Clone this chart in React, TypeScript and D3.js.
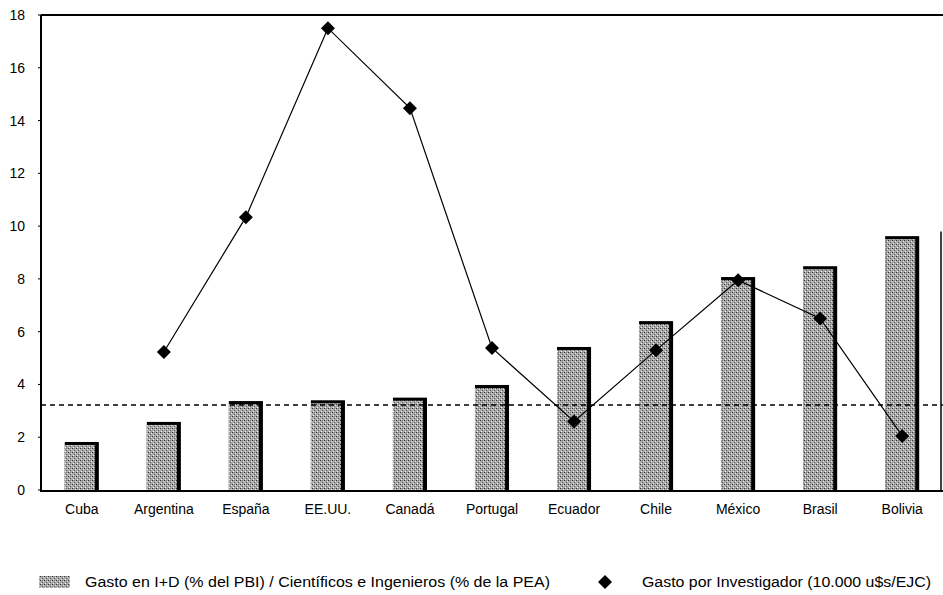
import { useEffect, useRef } from 'react';
import * as d3 from 'd3';

const countries = ['Cuba', 'Argentina', 'España', 'EE.UU.', 'Canadá', 'Portugal', 'Ecuador', 'Chile', 'México', 'Brasil', 'Bolivia'];
// Gasto en I+D (% del PBI) / Científicos e Ingenieros (% de la PEA)
const ratio = [1.82, 2.58, 3.37, 3.4, 3.5, 3.98, 5.42, 6.4, 8.07, 8.48, 9.62];
// Gasto por Investigador (10.000 u$s/EJC) — Cuba sin dato
const gastoInv: (number | null)[] = [null, 5.23, 10.34, 17.5, 14.47, 5.38, 2.6, 5.3, 7.95, 6.5, 2.05];
const promedio = 3.22;
const yTicks = [0, 2, 4, 6, 8, 10, 12, 14, 16, 18];

const diamondPath = (r: number) => `M0,${-r}L${r},0L0,${r}L${-r},0Z`;

export default function App() {
  const svgRef = useRef<SVGSVGElement>(null);

  useEffect(() => {
    if (!svgRef.current) return;
    const width = 943;
    const height = 595;
    const margin = { top: 15, right: 0, bottom: 103, left: 41 };
    const font = '"Liberation Sans", Arial, sans-serif';

    const svg = d3.select(svgRef.current).attr('width', width).attr('height', height);
    svg.selectAll('*').remove();

    const defs = svg.append('defs');
    const pat = defs
      .append('pattern')
      .attr('id', 'stipple')
      .attr('width', 4)
      .attr('height', 4)
      .attr('patternUnits', 'userSpaceOnUse');
    pat.append('rect').attr('width', 4).attr('height', 4).attr('fill', '#a9a9a9');
    pat.append('rect').attr('x', 0).attr('y', 0).attr('width', 1).attr('height', 1).attr('fill', '#333');
    pat.append('rect').attr('x', 2).attr('y', 2).attr('width', 1).attr('height', 1).attr('fill', '#555');
    pat.append('rect').attr('x', 1).attr('y', 3).attr('width', 1).attr('height', 1).attr('fill', '#eee');
    pat.append('rect').attr('x', 3).attr('y', 1).attr('width', 1).attr('height', 1).attr('fill', '#ddd');
    pat.append('rect').attr('x', 2).attr('y', 0).attr('width', 1).attr('height', 1).attr('fill', '#777');

    const x = d3
      .scaleBand()
      .domain(countries)
      .range([margin.left, width - margin.right])
      .paddingInner(0.585)
      .paddingOuter(0.29);

    const y = d3
      .scaleLinear()
      .domain([0, 18])
      .range([height - margin.bottom - 2, margin.top]);

    const baseY = y(0);

    // frame
    svg
      .append('line')
      .attr('x1', margin.left)
      .attr('x2', width)
      .attr('y1', y(18))
      .attr('y2', y(18))
      .attr('stroke', '#000')
      .attr('stroke-width', 2);
    svg
      .append('line')
      .attr('x1', margin.left)
      .attr('x2', width)
      .attr('y1', baseY + 1)
      .attr('y2', baseY + 1)
      .attr('stroke', '#000')
      .attr('stroke-width', 2);
    svg
      .append('line')
      .attr('x1', margin.left)
      .attr('x2', margin.left)
      .attr('y1', y(18))
      .attr('y2', baseY + 2)
      .attr('stroke', '#000')
      .attr('stroke-width', 2);
    svg
      .append('line')
      .attr('x1', width - 2)
      .attr('x2', width - 2)
      .attr('y1', y(9.8))
      .attr('y2', baseY + 2)
      .attr('stroke', '#000')
      .attr('stroke-width', 1.5);

    // y ticks
    const yAxis = svg.append('g');
    yAxis
      .selectAll('text')
      .data(yTicks)
      .enter()
      .append('text')
      .attr('x', 25)
      .attr('y', (d) => y(d) + 5)
      .attr('text-anchor', 'end')
      .style('font-family', font)
      .style('font-size', '14px')
      .style('fill', '#000')
      .text((d) => d);
    yAxis
      .selectAll('line')
      .data(yTicks)
      .enter()
      .append('line')
      .attr('x1', margin.left - 3)
      .attr('x2', margin.left)
      .attr('y1', (d) => y(d))
      .attr('y2', (d) => y(d))
      .attr('stroke', '#000');

    // bars: shadow (top + right edge) then stippled fill
    const bw = x.bandwidth();
    svg
      .selectAll('.shadow')
      .data(countries)
      .enter()
      .append('rect')
      .attr('class', 'shadow')
      .attr('x', (d) => x(d) || 0)
      .attr('y', (_, i) => y(ratio[i]))
      .attr('width', bw)
      .attr('height', (_, i) => baseY - y(ratio[i]))
      .attr('fill', '#000');
    svg
      .selectAll('.bar')
      .data(countries)
      .enter()
      .append('rect')
      .attr('class', 'bar')
      .attr('x', (d) => x(d) || 0)
      .attr('y', (_, i) => y(ratio[i]) + 3)
      .attr('width', bw - 4)
      .attr('height', (_, i) => baseY - y(ratio[i]) - 3)
      .attr('fill', 'url(#stipple)');

    // dashed reference line
    svg
      .append('line')
      .attr('x1', margin.left)
      .attr('x2', width)
      .attr('y1', y(promedio))
      .attr('y2', y(promedio))
      .attr('stroke', '#000')
      .attr('stroke-width', 1.5)
      .attr('stroke-dasharray', '5,4');

    // line series
    const pts = countries
      .map((c, i) => ({ c, v: gastoInv[i] }))
      .filter((d) => d.v !== null) as { c: string; v: number }[];
    const line = d3
      .line<{ c: string; v: number }>()
      .x((d) => (x(d.c) || 0) + bw / 2)
      .y((d) => y(d.v));
    svg
      .append('path')
      .datum(pts)
      .attr('d', line)
      .attr('fill', 'none')
      .attr('stroke', '#000')
      .attr('stroke-width', 1.2);
    svg
      .selectAll('.pt')
      .data(pts)
      .enter()
      .append('path')
      .attr('class', 'pt')
      .attr('d', diamondPath(7))
      .attr('transform', (d) => `translate(${(x(d.c) || 0) + bw / 2},${y(d.v)})`)
      .attr('fill', '#000');

    // x labels
    svg
      .selectAll('.xl')
      .data(countries)
      .enter()
      .append('text')
      .attr('class', 'xl')
      .attr('x', (d) => (x(d) || 0) + bw / 2)
      .attr('y', baseY + 24)
      .attr('text-anchor', 'middle')
      .style('font-family', font)
      .style('font-size', '14px')
      .style('fill', '#000')
      .text((d) => d);

    // legend
    const ly = 582;
    svg
      .append('rect')
      .attr('x', 39)
      .attr('y', ly - 6)
      .attr('width', 31)
      .attr('height', 12)
      .attr('fill', 'url(#stipple)');
    svg
      .append('text')
      .attr('x', 85)
      .attr('y', ly + 5)
      .attr('textLength', 465)
      .attr('lengthAdjust', 'spacingAndGlyphs')
      .style('font-family', font)
      .style('font-size', '14px')
      .style('fill', '#000')
      .text('Gasto en I+D (% del PBI) / Científicos e Ingenieros (% de la PEA)');
    svg
      .append('path')
      .attr('d', diamondPath(7))
      .attr('transform', `translate(605,${ly})`)
      .attr('fill', '#000');
    svg
      .append('text')
      .attr('x', 642)
      .attr('y', ly + 5)
      .attr('textLength', 289)
      .attr('lengthAdjust', 'spacingAndGlyphs')
      .style('font-family', font)
      .style('font-size', '14px')
      .style('fill', '#000')
      .text('Gasto por Investigador (10.000 u$s/EJC)');
  }, []);

  return (
    <svg
      ref={svgRef}
      style={{ position: 'absolute', left: 0, top: 0, display: 'block', background: '#fff' }}
    />
  );
}
